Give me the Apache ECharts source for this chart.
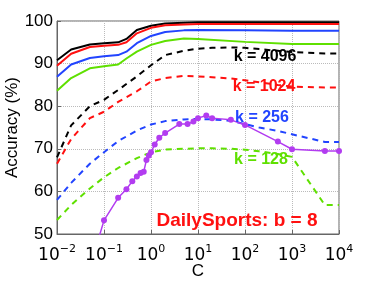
<!DOCTYPE html>
<html><head><meta charset="utf-8">
<script src="https://cdn.jsdelivr.net/npm/echarts@6/dist/echarts.min.js"></script>
<style>html,body{margin:0;padding:0;background:#fff}#c{width:374px;height:281px}</style>
</head><body><div id="c"></div>
<script>
const C_SOLID = [0.01,0.02,0.05,0.1,0.2,0.3,0.5,1,2,5,10,100,1000,10000];
const K4096_SOLID = [90.8,93.3,94.5,94.8,95.0,95.8,97.9,98.9,99.4,99.6,99.7,99.7,99.7,99.7];
const K1024_SOLID = [89.5,92.3,93.9,94.2,94.4,95.0,97.1,98.4,99.0,99.2,99.3,99.3,99.3,99.3];
const K256_SOLID  = [86.9,89.8,91.3,91.7,92.0,92.8,94.8,96.5,97.4,97.8,97.9,97.8,97.7,97.7];
const K128_SOLID  = [83.6,86.6,88.9,89.4,89.8,91.2,92.8,94.4,95.3,95.9,95.8,95.1,94.6,94.6];

const C_DASH = [0.01,0.02,0.05,0.1,0.2,0.5,1,2,5,10,20,50,100,200,500,1000,5000,10000];
const K4096_DASH = [68,75.5,80,81.5,83.8,87,89.6,92,93,93.5,93.7,93.8,93.7,93.4,93,92.7,92.4,92.4];
const K1024_DASH = [66.5,72.3,77.2,78.7,81,83.5,85.8,86.6,87.1,87,86.8,86.5,86.1,85.6,85,84.6,84.4,84.4];
const K256_DASH  = [58,62,66.5,69.2,71.8,74.3,75.7,76.5,76.9,77,76.9,76.6,75.8,75,74.2,73.4,71.6,71.6];
const K128_DASH  = [53.3,56.8,60.7,63.3,65.5,67.8,69.2,69.8,70,70.1,70.1,70,69.8,69.4,68.8,68.1,56.8,56.8];

const C_B8 = [0.05,0.1,0.2,0.3,0.4,0.5,0.6,0.7,0.8,0.9,1,1.2,1.5,2,4,6,8,10,15,20,50,100,500,1000,5000,10000];
const B8 = [42,53.2,58.5,60.5,62.4,63.5,64.3,64.6,67.4,68.4,69.2,71,72.6,73.7,75.8,75.8,76.4,77.2,77.8,77.2,76.8,75.6,71.7,69.9,69.5,69.5];

const Y_TICKS = [50,60,70,80,90,100];
const X_EXP = [-2,-1,0,1,2,3,4];

const FONT = '"Liberation Sans", Arial, sans-serif';
const BLACK='#000000', RED='#ff1010', BLUE='#2244ff', GREEN='#5fe000', MAG='#b23cf0';

function pairs(xs, ys){ return xs.map((x,i)=>[x, ys[i]]); }
function line(name, xs, ys, color, dashed){
  return {name, type:'line', data: pairs(xs,ys), showSymbol:false, symbol:'none', smooth:false,
    lineStyle:{color, width:2, type: dashed ? [6,5] : 'solid'}, clip:true, z: dashed?3:4};
}
const chart = echarts.init(document.getElementById('c'));
chart.setOption({
  animation:false,
  grid:{left:57, right:35, top:21, bottom:47, containLabel:false, outerBoundsMode:'none', show:true, borderColor:'#666', borderWidth:1},
  xAxis:{type:'log', logBase:10, min:0.01, max:10000,
    name:'C', nameLocation:'middle', nameGap:29, nameMoveOverlap:false,
    nameTextStyle:{fontFamily:FONT, fontSize:17, color:'#000'},
    axisLine:{show:true, lineStyle:{color:'#666'}},
    axisTick:{show:true, inside:true, length:4, lineStyle:{color:'#666'}},
    splitLine:{show:true, lineStyle:{color:'#bbb', type:'dotted'}},
    axisLabel:{margin:10, color:'#000',
      formatter:(v)=>{const e=Math.round(Math.log10(v)); if(X_EXP.indexOf(e)<0) return ''; return '{b|10}{s|'+(e<0?'\u2212'+(-e):e)+'}';},
      rich:{b:{fontFamily:'"DejaVu Sans"', fontSize:17, color:'#000'}, s:{fontFamily:'"DejaVu Sans"', fontSize:11, color:'#000', padding:[0,0,12,0]}}}
  },
  yAxis:{type:'value', min:50, max:100, interval:10,
    name:'Accuracy (%)', nameLocation:'middle', nameGap:36, nameMoveOverlap:false,
    nameTextStyle:{fontFamily:FONT, fontSize:17, color:'#000'},
    axisLine:{show:true, lineStyle:{color:'#666'}},
    axisTick:{show:true, inside:true, length:4, lineStyle:{color:'#666'}},
    splitLine:{show:true, lineStyle:{color:'#bbb', type:'dotted'}},
    axisLabel:{margin:4, color:'#000', fontFamily:FONT, fontSize:17,
      formatter:(v)=> Y_TICKS.indexOf(v)>=0 ? String(v) : ''}
  },
  series:[
    line('k4096s', C_SOLID, K4096_SOLID, BLACK, false),
    line('k1024s', C_SOLID, K1024_SOLID, RED, false),
    line('k256s', C_SOLID, K256_SOLID, BLUE, false),
    line('k128s', C_SOLID, K128_SOLID, GREEN, false),
    line('k4096d', C_DASH, K4096_DASH, BLACK, true),
    line('k1024d', C_DASH, K1024_DASH, RED, true),
    line('k256d', C_DASH, K256_DASH, BLUE, true),
    line('k128d', C_DASH, K128_DASH, GREEN, true),
    {name:'b8', type:'line', data:pairs(C_B8,B8), symbol:'circle', symbolSize:6, showSymbol:true,
     itemStyle:{color:MAG}, lineStyle:{color:MAG, width:1.5}, clip:true, z:5}
  ],
  graphic:[
    {type:'text', x:265, y:57, z:10, style:{text:'k = 4096', align:'center', verticalAlign:'middle', font:'bold 16px '+FONT, fill:BLACK}},
    {type:'text', x:264, y:87, z:10, style:{text:'k = 1024', align:'center', verticalAlign:'middle', font:'bold 16px '+FONT, fill:RED}},
    {type:'text', x:262, y:118, z:10, style:{text:'k = 256', align:'center', verticalAlign:'middle', font:'bold 16px '+FONT, fill:BLUE}},
    {type:'text', x:261, y:160, z:10, style:{text:'k = 128', align:'center', verticalAlign:'middle', font:'bold 16px '+FONT, fill:GREEN}},
    {type:'text', x:237, y:221, z:10, style:{text:'DailySports: b = 8', align:'center', verticalAlign:'middle', font:'bold 19px '+FONT, fill:RED}}
  ]
});
</script></body></html>
